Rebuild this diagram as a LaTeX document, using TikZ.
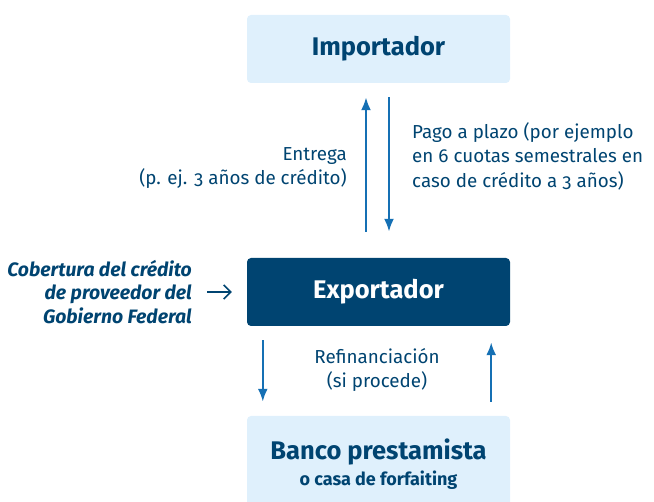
\documentclass[tikz,border=0pt]{standalone}
\usepackage{fontspec}
\setmainfont{Fira Sans}[RawFeature=+onum]
\usetikzlibrary{arrows.meta,calc}
\definecolor{dunkelblau}{HTML}{004471}
\definecolor{hellblau}{HTML}{DFF0FC}
\definecolor{pfeilblau}{HTML}{1570B4}
\begin{document}
\begin{tikzpicture}[x=1pt, y=-1pt, >={Latex[length=13pt,width=10pt]},
  kasten/.style={rounded corners=4pt, minimum width=263pt, minimum height=68pt, inner sep=0pt,
    font=\bfseries\fontsize{25.5}{28}\selectfont},
  hell/.style={kasten, fill=hellblau, text=dunkelblau},
  dunkel/.style={kasten, fill=dunkelblau, text=white},
  pfeil/.style={->, pfeilblau, line width=2.4pt},
  etikett/.style={text=dunkelblau, inner sep=0pt, font=\fontsize{18.8}{24.5}\selectfont}]
  % --- Rahmen ---
  \clip (0,0) rectangle (654,502);

  % --- Kaesten ---
  \node[hell] (imp) at (378.5,49) {Importador};
  \node[dunkel] (exp) at (378.5,292) {Exportador};
  \node[hell, minimum height=96pt, align=center] (bank) at (378.5,464)
    {Banco prestamista\\[-2pt]{\fontsize{18}{20}\selectfont o casa de forfaiting}};

  % --- Etiketten ---
  \node[etikett, anchor=east, align=right] (entrega) at (347,168)
    {Entrega\\(p. ej. 3 años de crédito)};
  \node[etikett, anchor=west, align=left] (pago) at (412,156)
    {Pago a plazo (por ejemplo\\en 6 cuotas semestrales en\\caso de crédito a 3 años)};
  \node[etikett, align=center] (refi) at (377,370)
    {Refinanciación\\(si procede)};
  \node[etikett, anchor=east, align=right, font=\bfseries\itshape\fontsize{19.4}{23.5}\selectfont] (cob) at (192,292)
    {Cobertura del crédito\\de proveedor del\\Gobierno Federal};

  % --- Pfeile ---
  \draw[pfeil] ($(exp.north)+(-12.5,-26)$) -- ($(imp.south)+(-12.5,14)$);
  \draw[pfeil] ($(imp.south)+(10.5,14)$) -- ($(exp.north)+(10.5,-26)$);
  \draw[pfeil] ($(exp.south west)+(16,14)$) -- ($(bank.north west)+(16,-14)$);
  \draw[pfeil] ($(bank.north east)+(-19,-14)$) -- ($(exp.south east)+(-19,16)$);
  \draw[dunkelblau, line width=1.6pt, -{Straight Barb[length=7pt,width=14pt]},
    shorten <=15pt, shorten >=15pt] (cob.east) -- (exp.west);
\end{tikzpicture}
\end{document}
